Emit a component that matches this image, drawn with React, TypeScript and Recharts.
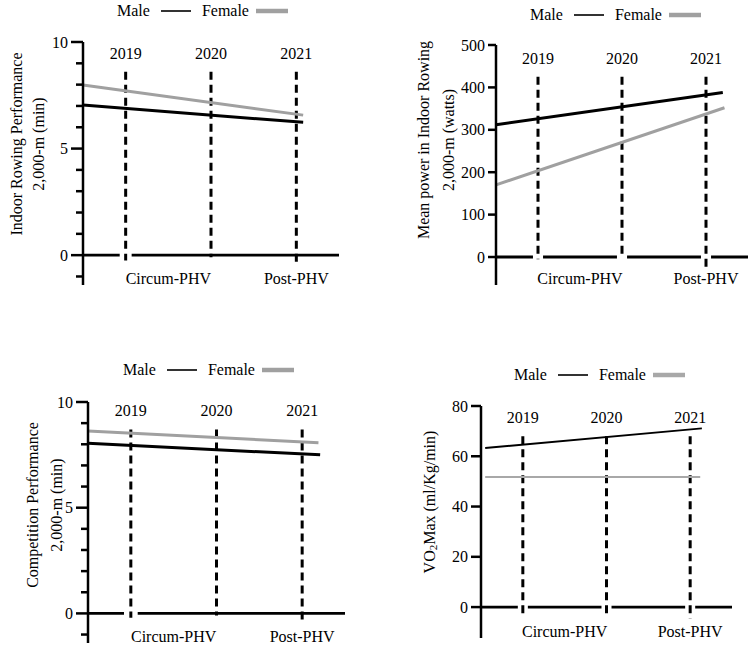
import React from "react";
import { LineChart, Line, XAxis, YAxis, ReferenceLine, Legend } from "recharts";

const FONT = '"Liberation Serif", "DejaVu Serif", "Times New Roman", serif';
const FS = 16;
const GREY = "#a0a0a0";

// shared axis content
const YEARS = [2019, 2020, 2021];
const PHASES = ["Circum-PHV", "Post-PHV"];
const PHASE_AT = [2019.5, 2021];
const X_DOMAIN = [2018.5, 2021.5];
const SERIES = ["Male", "Female"];

// tick sets
const MIN_TICKS = [-1, 0, 1, 2, 3, 4, 5, 6, 7, 8, 9, 10];
const MIN_MAJOR = [0, 5, 10];
const WATT_TICKS = [0, 100, 200, 300, 400, 500];
const VO2_TICKS = [0, 20, 40, 60, 80];

// series (fitted lines, so two ends each)
const rowingMale = [
  { year: 2018.5, value: 7.04 },
  { year: 2021.08, value: 6.23 },
];
const rowingFemale = [
  { year: 2018.5, value: 7.98 },
  { year: 2021.08, value: 6.57 },
];
const powerMale = [
  { year: 2018.5, value: 312 },
  { year: 2021.2, value: 388 },
];
const powerFemale = [
  { year: 2018.5, value: 170 },
  { year: 2021.22, value: 352 },
];
const compMale = [
  { year: 2018.5, value: 8.05 },
  { year: 2021.21, value: 7.5 },
];
const compFemale = [
  { year: 2018.5, value: 8.63 },
  { year: 2021.19, value: 8.07 },
];
const vo2Male = [
  { year: 2018.55, value: 63.3 },
  { year: 2021.14, value: 71.1 },
];
const vo2Female = [
  { year: 2018.55, value: 51.8 },
  { year: 2021.12, value: 51.8 },
];

const LEGEND_SAMPLE: Record<string, number> = { Male: 1.6, Female: 4.5 };

function LegendContent(props: any) {
  const { payload = [] } = props;
  const items = [...payload].sort((a: any, b: any) => SERIES.indexOf(a.value) - SERIES.indexOf(b.value));
  return (
    <div style={{ display: "flex", alignItems: "center", fontSize: FS, lineHeight: "20px", whiteSpace: "nowrap", color: "#000", fontFamily: FONT }}>
      {items.map((entry: any) => (
        <React.Fragment key={entry.value}>
          <span>{entry.value}</span>
          <svg width={entry.value === "Male" ? 52 : 40} height={12}>
            <line
              x1={entry.value === "Male" ? 11 : 7}
              x2={entry.value === "Male" ? 41 : 39}
              y1={6}
              y2={6}
              stroke={entry.color}
              strokeWidth={LEGEND_SAMPLE[entry.value] ?? 2}
            />
          </svg>
        </React.Fragment>
      ))}
    </div>
  );
}

const makeYTick = (major: number[], majorLen: number, minorLen: number) => (props: any) => {
  const { x, y, payload } = props;
  const isMajor = major.includes(payload.value);
  const len = isMajor ? majorLen : minorLen;
  return (
    <g>
      <line x1={x - len} y1={y} x2={x} y2={y} stroke="#000" strokeWidth={2.5} />
      {isMajor && (
        <text x={x - len - 3} y={y} dy="0.35em" textAnchor="end" fontSize={FS} fill="#000" fontFamily={FONT}>
          {payload.value}
        </text>
      )}
    </g>
  );
};

function PhaseTick(props: any) {
  const { x, y, payload } = props;
  const i = PHASE_AT.indexOf(payload.value);
  return (
    <text x={x} y={y - 1} textAnchor="middle" fontSize={FS} fill="#000" fontFamily={FONT}>
      {PHASES[i]}
    </text>
  );
}

function renderLine(line: string) {
  if (!line.startsWith("VO2")) return line;
  return (
    <>
      VO
      <tspan fontSize={11} dy={2}>2</tspan>
      <tspan dy={-2}>{line.slice(3)}</tspan>
    </>
  );
}

interface PanelProps {
  left: number;
  top: number;
  width: number;
  height: number;
  plot: { left: number; top: number; right: number; bottom: number };
  domain: [number, number];
  ticks: number[];
  major: number[];
  majorLen: number;
  minorLen: number;
  male: { year: number; value: number }[];
  female: { year: number; value: number }[];
  lineWidth: number;
  femaleColor: string;
  dashTop: number;
  dashBottoms: number[];
  gapYears: number[];
  gapHalf: number;
  legend: { left: number; top: number };
  yLabel: string[];
  yLabelX: number[];
  yLabelY: number;
}

function Panel(p: PanelProps) {
  const margin = {
    left: p.plot.left - 1,
    top: p.plot.top,
    right: p.width - p.plot.right,
    bottom: p.height - p.plot.bottom - 1,
  };
  const zeroGap = p.gapHalf;
  return (
    <div style={{ position: "absolute", left: p.left, top: p.top }}>
      <LineChart width={p.width} height={p.height} margin={margin} style={{ fontFamily: FONT }}>
        <XAxis
          type="number"
          dataKey="year"
          domain={X_DOMAIN}
          ticks={PHASE_AT}
          interval={0}
          axisLine={false}
          tickLine={false}
          tickSize={0}
          tickMargin={0}
          height={1}
          tick={PhaseTick}
        />
        <YAxis
          type="number"
          domain={p.domain}
          ticks={p.ticks}
          interval={0}
          width={1}
          allowDataOverflow
          axisLine={{ stroke: "#000", strokeWidth: 2.5 }}
          tickLine={false}
          tickSize={0}
          tickMargin={0}
          tick={makeYTick(p.major, p.majorLen, p.minorLen)}
          label={{
            content: () => (
              <g>
                {p.yLabel.map((line, i) => (
                  <text
                    key={line}
                    x={p.yLabelX[i]}
                    y={p.yLabelY}
                    transform={`rotate(-90 ${p.yLabelX[i]} ${p.yLabelY})`}
                    textAnchor="middle"
                    fontSize={FS}
                    fill="#000"
                    fontFamily={FONT}
                  >
                    {renderLine(line)}
                  </text>
                ))}
              </g>
            ),
          }}
        />
        <ReferenceLine y={0} stroke="#000" strokeWidth={2.8} />
        {p.gapYears.map((yr) => (
          <ReferenceLine
            key={`gap-${yr}`}
            segment={[
              { x: yr - zeroGap, y: 0 },
              { x: yr + zeroGap, y: 0 },
            ]}
            stroke="#fff"
            strokeWidth={6}
          />
        ))}
        {YEARS.map((yr, i) => (
          <ReferenceLine
            key={yr}
            segment={[
              { x: yr, y: p.dashTop },
              { x: yr, y: p.dashBottoms[i] },
            ]}
            stroke="#000"
            strokeWidth={3}
            strokeDasharray="8 5"
            label={{ value: String(yr), position: "top", offset: 13, fontSize: FS, fill: "#000", fontFamily: FONT }}
          />
        ))}
        <Legend
          verticalAlign="middle"
          align="center"
          layout="horizontal"
          wrapperStyle={{ left: p.legend.left, top: p.legend.top, width: "auto" }}
          content={LegendContent}
        />
        <Line
          name="Male"
          data={p.male}
          dataKey="value"
          type="linear"
          stroke="#000"
          strokeWidth={p.lineWidth}
          dot={false}
          isAnimationActive={false}
        />
        <Line
          name="Female"
          data={p.female}
          dataKey="value"
          type="linear"
          stroke={p.femaleColor}
          strokeWidth={p.lineWidth}
          dot={false}
          isAnimationActive={false}
        />
      </LineChart>
    </div>
  );
}

export default function App() {
  return (
    <div style={{ position: "absolute", left: 0, top: 0, width: 754, height: 656, background: "#fff", fontFamily: FONT }}>
      <Panel
        left={0}
        top={0}
        width={377}
        height={300}
        plot={{ left: 83, top: 42, right: 339, bottom: 285 }}
        domain={[-1.4, 10]}
        ticks={MIN_TICKS}
        major={MIN_MAJOR}
        majorLen={12}
        minorLen={7}
        male={rowingMale}
        female={rowingFemale}
        lineWidth={3}
        femaleColor={GREY}
        dashTop={8.6}
        dashBottoms={[-0.25, -0.1, -0.45]}
        gapYears={[2019]}
        gapHalf={0.07}
        legend={{ left: 117, top: 1 }}
        yLabel={["Indoor Rowing Performance", "2,000-m (min)"]}
        yLabelX={[22, 44]}
        yLabelY={144}
      />
      <Panel
        left={377}
        top={0}
        width={377}
        height={300}
        plot={{ left: 119, top: 45, right: 371, bottom: 285 }}
        domain={[-66, 500]}
        ticks={WATT_TICKS}
        major={WATT_TICKS}
        majorLen={8}
        minorLen={8}
        male={powerMale}
        female={powerFemale}
        lineWidth={3}
        femaleColor={GREY}
        dashTop={425}
        dashBottoms={[-5, -2, -24]}
        gapYears={[2019, 2020, 2021]}
        gapHalf={0.06}
        legend={{ left: 153, top: 5 }}
        yLabel={["Mean power in Indoor Rowing", "2,000-m (watts)"]}
        yLabelX={[52, 77]}
        yLabelY={140}
      />
      <Panel
        left={0}
        top={328}
        width={377}
        height={328}
        plot={{ left: 88, top: 74, right: 345, bottom: 315 }}
        domain={[-1.4, 10]}
        ticks={MIN_TICKS}
        major={MIN_MAJOR}
        majorLen={12}
        minorLen={7}
        male={compMale}
        female={compFemale}
        lineWidth={3}
        femaleColor={GREY}
        dashTop={8.7}
        dashBottoms={[-0.2, -0.1, -0.5]}
        gapYears={[2019]}
        gapHalf={0.08}
        legend={{ left: 123, top: 32 }}
        yLabel={["Competition Performance", "2,000-m (min)"]}
        yLabelX={[38, 62]}
        yLabelY={177}
      />
      <Panel
        left={377}
        top={328}
        width={377}
        height={328}
        plot={{ left: 104, top: 78, right: 355, bottom: 310 }}
        domain={[-12.3, 80]}
        ticks={VO2_TICKS}
        major={VO2_TICKS}
        majorLen={10}
        minorLen={10}
        male={vo2Male}
        female={vo2Female}
        lineWidth={2}
        femaleColor="#a8a8a8"
        dashTop={68}
        dashBottoms={[-4, -4, -4.5]}
        gapYears={[2019, 2020, 2021]}
        gapHalf={0.06}
        legend={{ left: 137, top: 37 }}
        yLabel={["VO2Max (ml/Kg/min)"]}
        yLabelX={[58]}
        yLabelY={174}
      />
    </div>
  );
}
